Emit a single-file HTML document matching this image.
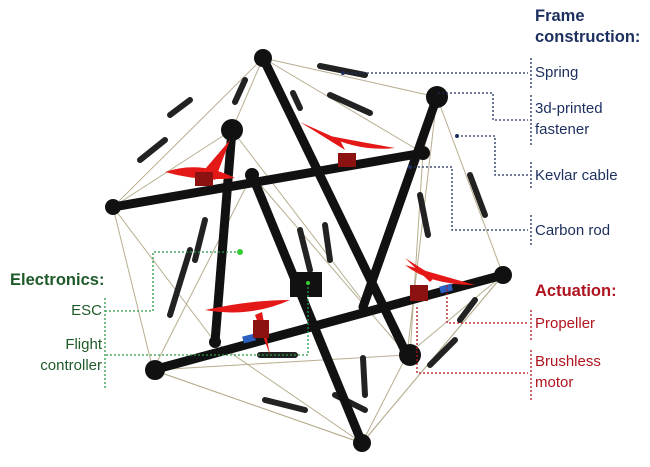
<!DOCTYPE html><html><head><style>
body{margin:0;background:#fff;width:650px;height:467px;overflow:hidden;position:relative;font-family:"Liberation Sans",sans-serif}
.t{position:absolute;font-size:15px;line-height:21px}
.b{color:#1c2f5e}.r{color:#b0141e}.g{color:#1f5a2a}
.h{font-weight:bold;font-size:16.5px}
</style></head><body>
<svg width="650" height="467" style="position:absolute;left:0;top:0">
<g stroke="#b8ad90" stroke-width="1" fill="none">
<path d="M263 58L437 97L503 275L362 443L153 370L113 207L263 58Z"/>
<path d="M263 58L232 130M263 58L423 153M113 207L232 130M113 207L215 342M437 97L423 153M437 97L407 355M503 275L407 355M362 443L407 355M153 370L407 355M153 370L252 175M252 175L407 355M232 130L362 300M423 153L410 355M215 342L362 443M153 370L362 443M503 275L362 443"/>
</g>
<g stroke="#222" stroke-width="6" stroke-linecap="round">
<path d="M320 66L365 75M245 80L235 102M170 115L190 100M140 160L165 140M330 95L370 113M293 93L300 108M420 195L428 235M470 175L485 215M190 250L170 315M195 260L205 220M300 230L310 270M325 225L330 260M260 355L295 355M265 400L305 410M335 395L365 410M363 358L365 395M460 320L475 300M430 365L455 340"/>
</g>
<g stroke="#111" stroke-width="9" stroke-linecap="round">
<line x1="113" y1="207" x2="423" y2="153"/>
<line x1="252" y1="175" x2="362" y2="443"/>
<line x1="232" y1="130" x2="215" y2="342"/>
<line x1="437" y1="97" x2="363" y2="307"/>
<line x1="153" y1="370" x2="503" y2="275"/>
<line x1="263" y1="58" x2="407" y2="355"/>
</g>
<line x1="243" y1="340" x2="255" y2="337" stroke="#2b5fc0" stroke-width="7"/>
<line x1="440" y1="290" x2="452" y2="287" stroke="#2b5fc0" stroke-width="7"/>
<g fill="#111">
<circle cx="263" cy="58" r="9"/><circle cx="437" cy="97" r="11"/><circle cx="232" cy="130" r="11"/>
<circle cx="113" cy="207" r="8"/><circle cx="252" cy="175" r="7"/><circle cx="423" cy="153" r="7"/>
<circle cx="503" cy="275" r="9"/><circle cx="410" cy="355" r="11"/><circle cx="362" cy="443" r="9"/>
<circle cx="155" cy="370" r="10"/><circle cx="215" cy="342" r="6"/>
<rect x="290" y="272" width="32" height="25"/>
</g>
<g fill="#e51818">
<path d="M165 172Q200 160 235 178Q200 182 165 172Z"/><path d="M200 175L230 140L215 180Z"/>
<path d="M325 135Q350 140 395 148Q360 152 325 135Z"/><path d="M345 150L300 122L340 140Z"/>
<path d="M205 310Q250 300 290 300Q250 318 205 310Z"/><path d="M255 315L270 355L262 312Z"/>
<path d="M405 265Q440 275 475 285Q430 285 405 265Z"/><path d="M435 277L405 258L430 282Z"/>
</g>
<g fill="#8c1212"><rect x="195" y="172" width="18" height="14"/><rect x="338" y="153" width="18" height="14"/><rect x="253" y="320" width="16" height="18"/><rect x="410" y="285" width="18" height="16"/></g>
<g fill="none" stroke-width="1.3" stroke-dasharray="2,2">
<g stroke="#1c2f5e">
<path d="M343 73H528M438 93H493V120H528M457 136H495V175H528M410 167H452V230H528"/>
<path d="M531 58V88M531 95V145M531 162V190M531 215V245"/>
</g>
<g stroke="#b0141e">
<path d="M447 285V323H528M417 307V373H528M531 310V340M531 350V400"/>
</g>
<g stroke="#2a9a48">
<path d="M240 252H153V311H105M308 283V355H105M105 298V390"/>
</g>
</g>
<circle cx="343" cy="73" r="2" fill="#1c2f5e"/><circle cx="457" cy="136" r="2" fill="#1c2f5e"/><circle cx="410" cy="167" r="2" fill="#1c2f5e"/>
<circle cx="240" cy="252" r="3" fill="#3c3"/><circle cx="308" cy="283" r="2" fill="#3c3"/>
</svg>
<div class="t b h" style="left:535px;top:6px">Frame<br>construction:</div>
<div class="t b" style="left:535px;top:62px">Spring</div>
<div class="t b" style="left:535px;top:98px">3d-printed<br>fastener</div>
<div class="t b" style="left:535px;top:165px">Kevlar cable</div>
<div class="t b" style="left:535px;top:220px">Carbon rod</div>
<div class="t r h" style="left:535px;top:281px">Actuation:</div>
<div class="t r" style="left:535px;top:313px">Propeller</div>
<div class="t r" style="left:535px;top:351px">Brushless<br>motor</div>
<div class="t g h" style="left:10px;top:270px">Electronics:</div>
<div class="t g" style="right:548px;top:300px;text-align:right">ESC</div>
<div class="t g" style="right:548px;top:334px;text-align:right">Flight<br>controller</div>
</body></html>
